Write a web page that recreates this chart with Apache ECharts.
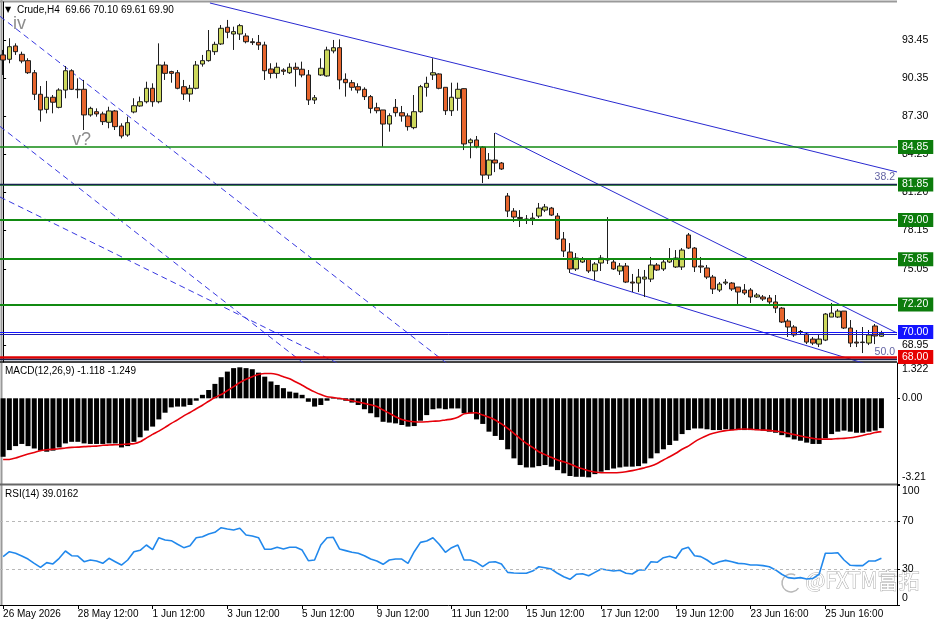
<!DOCTYPE html>
<html>
<head>
<meta charset="utf-8">
<script src="https://cdn.jsdelivr.net/npm/echarts@6/dist/echarts.min.js"></script>
<style>
  html, body { margin: 0; padding: 0; background: #fff; }
  #chart { width: 936px; height: 624px; }
</style>
</head>
<body>
<div id="chart"></div>
<script>
// ---- data ----
const timeLabels = ['26 May 2026', '28 May 12:00', '1 Jun 12:00', '3 Jun 12:00', '5 Jun 12:00', '9 Jun 12:00',
  '11 Jun 12:00', '15 Jun 12:00', '17 Jun 12:00', '19 Jun 12:00', '23 Jun 16:00', '25 Jun 16:00'];
const barsPerLabel = 12;
const slotCount = 144; // 142 bars + empty shift on the right

const opens = [92.25,91.90,92.97,92.30,91.79,90.82,89.09,87.88,88.85,88.04,
  89.43,90.98,89.49,89.49,87.43,87.69,87.51,86.84,87.75,86.54,
  85.82,87.67,88.15,88.49,89.57,88.49,91.44,90.91,90.82,89.70,
  89.11,89.57,91.52,91.79,92.51,93.13,94.47,93.93,93.93,93.77,
  93.31,93.26,93.05,91.12,90.77,91.04,90.82,91.26,91.10,90.64,
  88.63,90.64,90.56,92.57,92.83,90.29,90.02,89.70,89.49,88.90,
  88.01,87.83,86.70,88.04,87.61,87.35,86.41,87.69,89.65,90.64,
  90.72,89.65,87.77,88.77,89.54,85.20,85.42,84.85,82.60,83.81,
  83.57,80.92,79.71,79.20,79.07,79.07,79.31,79.79,79.95,79.31,
  77.47,76.42,75.06,75.62,75.86,74.90,75.54,75.78,75.62,74.90,
  75.30,74.01,73.93,74.25,74.25,75.38,75.06,75.62,75.22,75.22,
  77.79,76.74,75.30,75.14,74.41,73.37,73.93,73.93,73.61,73.37,
  73.37,72.81,72.81,72.73,72.41,71.92,70.88,70.40,69.96,69.84,
  69.43,69.03,69.35,71.20,71.20,71.68,70.32,69.19,69.15,69.11,
  70.48,69.66];
const highs = [92.65,93.59,93.18,92.51,91.98,91.04,89.75,90.16,89.03,89.57,
  91.36,91.10,90.37,90.24,88.09,87.96,87.69,88.09,87.83,86.76,
  87.29,88.77,88.90,90.10,89.97,93.18,91.71,90.98,91.04,90.24,
  89.84,91.76,92.25,94.25,93.31,94.65,95.06,94.52,94.74,93.99,
  93.59,93.85,93.31,91.58,91.63,91.18,91.58,91.63,91.71,91.04,
  89.03,91.98,92.91,93.45,93.50,90.77,90.24,89.97,89.65,89.03,
  88.41,87.83,87.56,88.71,88.15,87.56,89.03,89.84,90.50,91.98,
  90.77,89.65,90.02,90.02,89.57,85.55,85.74,84.93,84.37,85.98,
  83.65,81.16,79.95,79.79,79.39,79.57,80.36,80.28,80.04,79.55,
  78.03,77.14,76.34,76.02,75.94,75.62,76.18,79.23,75.86,75.54,
  75.54,74.66,75.06,74.98,76.02,75.54,75.78,76.74,76.58,76.74,
  77.95,76.82,76.02,75.38,74.58,74.01,74.25,74.01,73.61,73.85,
  73.53,73.13,72.97,72.97,72.97,72.00,71.04,70.55,70.16,70.00,
  69.60,69.84,71.52,72.33,71.84,71.68,70.96,70.16,70.40,70.16,
  70.64,70.10];
const lows = [90.64,91.58,92.25,91.58,90.72,88.63,86.89,87.56,87.56,87.96,
  88.77,89.43,88.77,86.22,87.29,87.29,86.62,86.36,86.22,85.55,
  85.68,87.56,88.09,88.36,88.09,88.36,90.24,90.02,89.49,88.63,
  88.49,89.49,91.31,91.71,92.25,93.05,93.59,92.65,93.45,93.18,
  93.05,92.65,90.24,90.37,90.37,90.64,90.72,89.70,90.45,88.23,
  88.31,90.56,90.50,92.38,89.49,88.90,89.38,89.17,88.63,87.56,
  87.56,84.88,86.09,87.29,86.89,86.17,86.28,87.61,88.90,90.24,
  89.49,87.43,87.35,87.77,84.61,83.95,84.75,81.96,82.28,82.84,
  83.01,79.23,78.83,78.43,78.67,78.59,79.15,79.63,79.31,77.39,
  76.02,74.74,74.90,75.54,74.74,74.17,74.90,75.46,74.98,74.58,
  73.93,73.21,73.21,72.81,74.01,74.90,74.90,75.54,75.14,74.98,
  76.66,74.82,74.74,74.25,73.05,73.21,73.77,73.29,72.25,72.97,
  72.33,72.73,72.49,72.25,71.52,70.72,69.60,69.60,69.84,69.03,
  68.95,68.79,69.27,71.20,71.12,70.24,68.79,68.79,68.31,68.95,
  69.03,69.61];
const closes = [91.84,92.91,92.51,91.76,90.82,89.09,87.83,88.85,88.45,89.43,
  90.98,89.49,89.45,87.43,87.96,87.51,86.89,87.75,86.49,85.74,
  86.81,88.17,88.49,89.57,88.49,91.44,90.77,90.77,89.57,89.11,
  89.57,91.44,91.79,92.59,93.10,94.39,94.07,94.12,94.60,93.31,
  93.24,93.05,90.98,90.77,91.26,90.94,91.26,91.10,90.64,88.63,
  88.81,91.18,92.65,92.83,90.24,90.02,89.65,89.43,88.90,87.96,
  87.77,86.70,87.37,87.61,87.35,86.49,87.69,89.70,89.97,90.82,
  89.57,87.77,88.85,89.49,85.10,85.42,84.88,82.60,83.81,83.57,
  83.09,79.71,79.23,79.12,79.04,79.15,79.95,80.04,79.39,77.47,
  76.50,75.06,75.94,75.86,74.90,75.46,75.94,75.86,75.06,75.30,
  74.01,73.93,74.41,74.41,75.38,74.98,75.62,75.86,75.94,76.58,
  76.74,75.22,75.22,74.41,73.45,73.85,74.01,73.45,73.21,73.13,
  72.81,72.97,72.65,72.41,71.92,70.80,70.40,69.76,70.04,69.19,
  69.11,69.43,71.44,71.52,71.68,70.32,69.11,69.11,69.19,69.76,
  69.68,69.90];

const macdHist = [-2.19,-1.94,-1.79,-1.71,-1.79,-1.88,-1.96,-2.00,-1.96,-1.84,
  -1.69,-1.63,-1.63,-1.69,-1.71,-1.71,-1.71,-1.69,-1.69,-1.84,
  -1.79,-1.63,-1.46,-1.21,-1.06,-0.79,-0.54,-0.34,-0.31,-0.31,
  -0.25,-0.09,0.13,0.31,0.54,0.79,1.00,1.13,1.16,1.13,
  1.09,0.96,0.81,0.63,0.50,0.38,0.25,0.21,0.13,-0.13,
  -0.31,-0.25,-0.09,-0.02,-0.04,-0.09,-0.16,-0.25,-0.41,-0.56,
  -0.71,-0.88,-0.91,-0.94,-1.00,-1.06,-1.04,-0.84,-0.63,-0.41,
  -0.38,-0.41,-0.38,-0.38,-0.56,-0.56,-0.79,-0.96,-1.25,-1.41,
  -1.56,-1.91,-2.25,-2.50,-2.59,-2.59,-2.54,-2.50,-2.56,-2.69,
  -2.81,-2.91,-2.94,-2.94,-2.96,-2.84,-2.75,-2.69,-2.63,-2.59,
  -2.56,-2.56,-2.54,-2.44,-2.25,-2.06,-1.91,-1.75,-1.59,-1.34,
  -1.19,-1.13,-1.13,-1.16,-1.19,-1.19,-1.16,-1.19,-1.19,-1.19,
  -1.19,-1.19,-1.21,-1.25,-1.29,-1.38,-1.46,-1.54,-1.59,-1.66,
  -1.71,-1.71,-1.50,-1.34,-1.25,-1.21,-1.25,-1.29,-1.29,-1.25,
  -1.21,-1.118];
const macdSignal = [-2.29,-2.29,-2.24,-2.16,-2.09,-2.03,-1.96,-1.93,-1.91,-1.89,
  -1.86,-1.84,-1.83,-1.81,-1.80,-1.79,-1.76,-1.75,-1.74,-1.73,
  -1.71,-1.70,-1.63,-1.49,-1.35,-1.23,-1.09,-0.94,-0.81,-0.66,
  -0.53,-0.39,-0.26,-0.11,0.03,0.14,0.29,0.44,0.59,0.71,
  0.81,0.89,0.93,0.93,0.89,0.81,0.73,0.61,0.49,0.36,
  0.24,0.14,0.06,0.03,0.00,-0.05,-0.09,-0.14,-0.19,-0.24,
  -0.31,-0.44,-0.56,-0.69,-0.79,-0.85,-0.88,-0.89,-0.88,-0.86,
  -0.85,-0.81,-0.78,-0.71,-0.58,-0.55,-0.54,-0.63,-0.71,-0.81,
  -0.96,-1.13,-1.31,-1.51,-1.69,-1.84,-2.00,-2.11,-2.21,-2.31,
  -2.38,-2.46,-2.56,-2.64,-2.71,-2.76,-2.79,-2.79,-2.79,-2.78,
  -2.75,-2.71,-2.66,-2.60,-2.54,-2.44,-2.31,-2.19,-2.06,-1.91,
  -1.79,-1.63,-1.50,-1.39,-1.31,-1.25,-1.21,-1.19,-1.16,-1.15,
  -1.16,-1.18,-1.19,-1.20,-1.23,-1.26,-1.31,-1.36,-1.41,-1.46,
  -1.50,-1.53,-1.53,-1.53,-1.51,-1.50,-1.48,-1.44,-1.39,-1.34,
  -1.28,-1.249];
const rsi = [40.3,44.4,43.1,40.8,38.3,34.7,31.4,35.3,34.2,38.9,
  45.0,41.1,40.8,36.1,37.5,36.7,34.7,38.9,36.1,33.3,
  37.5,44.4,45.6,50.0,46.1,56.1,54.2,53.6,50.6,47.8,
  49.4,56.1,56.9,59.2,60.6,64.4,63.3,62.5,63.9,58.3,
  57.5,56.1,46.4,46.4,48.1,46.7,48.1,48.1,45.8,36.9,
  37.5,50.0,56.1,56.4,46.7,45.3,43.9,43.1,41.1,38.3,
  36.7,33.9,37.5,38.3,38.3,34.7,44.4,52.2,53.3,56.1,
  50.6,43.9,47.8,50.0,37.5,37.5,35.6,31.9,35.6,36.1,
  34.2,27.2,26.7,26.4,26.4,28.3,31.9,31.1,30.0,26.4,
  23.6,21.4,25.6,26.1,24.4,27.2,30.0,29.2,28.3,28.9,
  26.4,25.8,29.2,29.2,36.1,35.6,39.4,40.6,38.9,46.4,
  48.1,41.1,40.3,37.5,33.9,36.1,37.2,36.1,34.7,34.4,
  33.3,33.3,32.8,31.9,29.2,25.6,22.8,22.2,22.8,21.7,
  22.2,25.6,43.1,43.1,43.6,37.5,33.1,32.8,32.8,36.7,
  36.7,39.0162];

const priceTicks = [93.45, 90.35, 87.30, 84.25, 81.20, 78.15, 75.05, 68.95];
const macdTicks = [1.322, 0, -3.21];
const macdTickLabels = ['1.322', '0.00', '-3.21'];
const rsiTicks = [100, 70, 30, 0];
const rsiLevels = [70, 30];

const levelValues = [84.85, 81.85, 79.00, 75.85, 72.20, 70.00, 68.00];
const fibValues = [81.85, 67.80];
const fibLabels = ['38.2', '50.0'];
const secondBlueLine = 69.82;

// trend lines as [bar index, price] pairs
const trendLines = [
  [[33.2, 96.42], [143.5, 82.85]],
  [[79.0, 85.98], [143.5, 69.92]],
  [[91.0, 74.74], [143.5, 66.67]]
];
const dashedLines = [
  [[-0.5, 95.35], [73.35, 66.66]],
  [[-0.5, 86.51], [49.27, 67.09]],
  [[-0.5, 80.84], [54.08, 67.40]]
];

// ---- chart ----
const FONT = 'Liberation Sans';
const last = closes.length - 1;
const categories = Array.from({ length: slotCount }, (_, i) => String(i));
const candleData = opens.map((o, i) => [o, closes[i], lows[i], highs[i]]);

const green = '#118a11';
const levelLine = [green, green, green, green, green, '#1414ff', '#e00000'];
const levelBox = ['#0c7c0c', '#0c7c0c', '#0c7c0c', '#0c7c0c', '#0c7c0c', '#1414ff', '#e60000'];
const levelWidth = [1.5, 1.5, 2, 2, 2, 1.2, 2.5];

const levelMarks = levelValues.map((v, i) => ({
  yAxis: v,
  lineStyle: { color: levelLine[i], width: levelWidth[i], type: 'solid' },
  label: {
    show: true, position: 'end', distance: 1, formatter: v.toFixed(2),
    color: '#fff', backgroundColor: levelBox[i], padding: [2, 5, 1, 4],
    fontSize: 10.5, fontFamily: FONT
  }
}));
const fibMarks = fibValues.map((v, i) => ({
  yAxis: v,
  lineStyle: { color: '#17234f', width: 1.3, type: 'solid' },
  label: { show: true, position: 'insideEndTop', distance: 2, formatter: fibLabels[i],
    color: '#6464a4', fontSize: 10.5, fontFamily: FONT }
}));
fibMarks.push({ yAxis: secondBlueLine, lineStyle: { color: '#1c1cb4', width: 1, type: 'solid' }, label: { show: false } });

function edgeFormatter(ticks, labels) {
  return function (v) {
    let k = 0, best = Infinity;
    ticks.forEach((t, j) => { const d = Math.abs(t - v); if (d < best) { best = d; k = j; } });
    const tag = k === 0 ? 'top' : (k === ticks.length - 1 ? 'bot' : 'mid');
    return '{' + tag + '|' + labels[k] + '}';
  };
}
const edgeRich = { top: { padding: [13, 0, 0, 0] }, mid: {}, bot: { padding: [0, 0, 13, 0] } };

const hiddenCat = g => ({
  type: 'category', gridIndex: g, data: categories, boundaryGap: true,
  axisLine: { show: false }, axisTick: { show: false }, axisLabel: { show: false }, splitLine: { show: false }
});
const rightAxis = (g, min, max, ticks, fmt, rich) => ({
  type: 'value', gridIndex: g, position: 'right', min: min, max: max,
  axisLine: { show: true, lineStyle: { color: '#000', width: 1 } },
  axisTick: { show: true, customValues: ticks, length: 3, lineStyle: { color: '#000' } },
  axisLabel: { customValues: ticks, formatter: fmt, rich: rich, color: '#000', fontSize: 10.5, fontFamily: FONT, margin: 5 },
  splitLine: { show: false }
});

const lineSeries = (pts, dashed) => ({
  type: 'line', xAxisIndex: 3, yAxisIndex: 0, data: pts, symbol: 'none', silent: true, z: 2,
  lineStyle: { color: dashed ? '#3838e0' : '#2a2ad0', width: 1, type: dashed ? [6, 4] : 'solid' }
});

const option = {
  animation: false,
  backgroundColor: '#fff',
  textStyle: { fontFamily: FONT },
  grid: [
    { left: 0, right: 39, top: 2, height: 360 },
    { left: 0, right: 39, top: 363, height: 121 },
    { left: 0, right: 39, top: 485, height: 120 }
  ],
  xAxis: [
    hiddenCat(0),
    hiddenCat(1),
    {
      type: 'category', gridIndex: 2, data: categories, boundaryGap: true,
      axisLine: { show: true, lineStyle: { color: '#000' } },
      axisTick: { show: true, interval: barsPerLabel - 1, alignWithLabel: true, length: 4, lineStyle: { color: '#000' } },
      axisLabel: {
        interval: barsPerLabel - 1, align: 'left', margin: 4, color: '#000', fontSize: 10, fontFamily: FONT,
        formatter: (v, i) => timeLabels[i / barsPerLabel] || ''
      },
      splitLine: { show: false }
    },
    { type: 'value', gridIndex: 0, min: -0.5, max: slotCount - 0.5, show: false }
  ],
  yAxis: [
    rightAxis(0, 67.59, 96.50, priceTicks, v => v.toFixed(2)),
    rightAxis(1, -3.21, 1.322, macdTicks, edgeFormatter(macdTicks, macdTickLabels), edgeRich),
    rightAxis(2, 0, 100, rsiTicks, edgeFormatter(rsiTicks, rsiTicks.map(String)), edgeRich)
  ],
  series: [
    {
      type: 'candlestick', xAxisIndex: 0, yAxisIndex: 0, data: candleData, barWidth: 5, z: 3,
      itemStyle: { color: '#cdd85c', color0: '#e7652d', borderColor: '#1e1e1e', borderColor0: '#1e1e1e', borderWidth: 1 },
      markLine: { silent: true, symbol: ['none', 'none'], data: levelMarks.concat(fibMarks) }
    },
    ...trendLines.map(p => lineSeries(p, false)),
    ...dashedLines.map(p => lineSeries(p, true)),
    {
      type: 'bar', xAxisIndex: 1, yAxisIndex: 1, data: macdHist, barWidth: 5,
      itemStyle: { color: '#000' }
    },
    {
      type: 'line', xAxisIndex: 1, yAxisIndex: 1, data: macdSignal, symbol: 'none', smooth: 0.2,
      lineStyle: { color: '#e6000a', width: 1.6 }
    },
    {
      type: 'line', xAxisIndex: 2, yAxisIndex: 2, data: rsi, symbol: 'none',
      lineStyle: { color: '#2188ec', width: 1.6 },
      markLine: {
        silent: true, symbol: ['none', 'none'], label: { show: false },
        lineStyle: { color: '#b8b8b8', type: [3, 3], width: 1 },
        data: rsiLevels.map(v => ({ yAxis: v }))
      }
    }
  ],
  graphic: [
    { type: 'line', shape: { x1: 0, y1: 1.5, x2: 897, y2: 1.5 }, style: { stroke: '#9a9a9a', lineWidth: 2 }, silent: true },
    { type: 'line', shape: { x1: 1.5, y1: 0, x2: 1.5, y2: 605 }, style: { stroke: '#9a9a9a', lineWidth: 2 }, silent: true },
    { type: 'line', shape: { x1: 0, y1: 362, x2: 897, y2: 362 }, style: { stroke: '#444', lineWidth: 2 }, silent: true },
    { type: 'line', shape: { x1: 0, y1: 484.5, x2: 897, y2: 484.5 }, style: { stroke: '#666', lineWidth: 2 }, silent: true },
    { type: 'text', left: 5, top: 6, style: { text: '▼', font: '8px "DejaVu Sans"', fill: '#000' } },
    { type: 'text', left: 17, top: 5, style: {
        text: 'Crude,H4  ' + opens[last].toFixed(2) + ' ' + highs[last].toFixed(2) + ' ' + lows[last].toFixed(2) + ' ' + closes[last].toFixed(2),
        font: '10px "Liberation Sans"', fill: '#000' } },
    { type: 'text', left: 5, top: 366, style: {
        text: 'MACD(12,26,9) ' + macdHist[last].toFixed(3) + ' ' + macdSignal[last].toFixed(3),
        font: '10px "Liberation Sans"', fill: '#000' } },
    { type: 'text', left: 5, top: 489, style: {
        text: 'RSI(14) ' + rsi[last].toFixed(4), font: '10px "Liberation Sans"', fill: '#000' } },
    { type: 'text', left: 13, top: 15, style: { text: 'iv', font: '18px "Liberation Sans"', fill: '#8c8c8c' } },
    { type: 'text', left: 72, top: 131, style: { text: 'v?', font: '18px "Liberation Sans"', fill: '#8c8c8c' } },
    { type: 'arc', shape: { cx: 791, cy: 583, r: 9, startAngle: 0.6, endAngle: 5.2 }, style: { stroke: '#b8b8b8', fill: null, lineWidth: 1.5 } },
    { type: 'text', left: 805, top: 569, style: { text: '@FXTM富拓', font: '21px "Noto Sans CJK SC"', fill: '#ffffff', stroke: '#aaaaaa', lineWidth: 1 } }
  ]
};

const chart = echarts.init(document.getElementById('chart'));
chart.setOption(option);
</script>
</body>
</html>
